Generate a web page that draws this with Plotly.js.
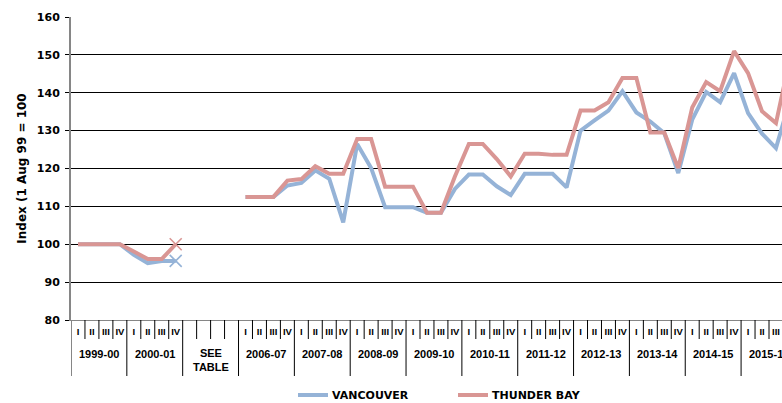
<!DOCTYPE html>
<html><head><meta charset="utf-8">
<script src="https://cdn.plot.ly/plotly-3.0.1.min.js"></script>
<style>html,body{margin:0;padding:0;overflow:hidden;background:#fff}#chart{width:782px;height:403px}</style>
</head><body><div id="chart"></div>
<script>
// ---- data ----
const groups = ['1999-00','2000-01','SEE<br>TABLE','2006-07','2007-08','2008-09','2009-10','2010-11','2011-12','2012-13','2013-14','2014-15','2015-16'];
const quarterNames = ['I','II','III','IV'];
const blankGroup = 'SEE<br>TABLE';
const seriesNames = ['VANCOUVER', 'THUNDER BAY'];
const vancouver = [100,100,100,100, 97.2,95.0,95.6,95.6, null,null,null,null,
  112.5,112.5,112.5,115.5, 116.2,119.5,117.3,105.8, 126.5,120.1,109.8,109.8, 109.8,108.3,108.3,114.6,
  118.4,118.4,115.3,113.0, 118.6,118.6,118.6,115.0, 130.0,132.7,135.3,140.4, 134.8,132.4,129.3,118.8,
  132.9,140.2,137.5,145.2, 134.6,129.2,125.4,138.0];
const thunderBay = [100,100,100,100, 98.1,96.1,96.1,100, null,null,null,null,
  112.5,112.5,112.5,116.8, 117.2,120.6,118.6,118.6, 127.8,127.8,115.2,115.2, 115.2,108.3,108.3,117.9,
  126.5,126.5,122.5,117.9, 123.9,123.9,123.6,123.6, 135.3,135.3,137.5,143.9, 143.9,129.5,129.5,120.1,
  136.1,142.8,140.4,151.0, 145.2,135.1,132.0,149.0];
const markerIndex = 7; // last quarter of 2000-01 (before the gap)

// ---- derived categories ----
const quarters = [];
groups.forEach(g => quarterNames.forEach(q => quarters.push(g === blankGroup ? '' : q)));
const idx = quarters.map((_, i) => i);

// ---- geometry ----
const M = {l:71, r:0, t:17, b:83};
const H = 403, W = 782;
const SLOT = 13.96; // px per quarter in the reference (chart continues past the right edge)
const plotH = H - M.t - M.b, plotW = W - M.l - M.r;
const py = px => (M.t + plotH - px) / plotH; // pixel y -> paper y
const pxX = px => (px - M.l) / plotW;          // pixel x -> paper x
const xEnd = -0.5 + plotW / SLOT;

const BLUE = '#95B3D7', RED = '#D99694';
const colors = [BLUE, RED];
const fTick = {family:'DejaVu Sans', size:11, weight:'bold', color:'#000'};

const traces = [
  {x: idx, y: vancouver, name: seriesNames[0], mode: 'lines', line: {color: BLUE, width: 4}, connectgaps: false, hoverinfo: 'skip', showlegend: false},
  {x: idx, y: thunderBay, name: seriesNames[1], mode: 'lines', line: {color: RED, width: 4}, connectgaps: false, hoverinfo: 'skip', showlegend: false},
  {x: [idx[markerIndex]], y: [vancouver[markerIndex]], mode: 'markers', showlegend: false, hoverinfo: 'skip',
   marker: {symbol: 'x-thin', size: 12, line: {color: BLUE, width: 1.6}, color: BLUE}},
  {x: [idx[markerIndex]], y: [thunderBay[markerIndex]], mode: 'markers', showlegend: false, hoverinfo: 'skip',
   marker: {symbol: 'x-thin', size: 12, line: {color: RED, width: 1.6}, color: RED}}
];

const shapes = [];
const annotations = [];
const n = quarters.length;
for (let k = 0; k < n; k++) {
  const bx = k + 0.5;
  if (bx > xEnd) break;
  const isGroupEnd = (k % 4) === 3;
  shapes.push({type: 'line', xref: 'x', yref: 'paper', x0: bx, x1: bx, y0: 0, y1: isGroupEnd ? py(376) : py(339),
    line: {color: '#000', width: 1}});
}
shapes.push({type: 'line', xref: 'x', yref: 'paper', x0: -0.5, x1: -0.5, y0: 0, y1: py(376), line: {color: '#868686', width: 2}});
groups.forEach((g, gi) => {
  annotations.push({x: gi * 4 + 1.5, xref: 'x', y: py(g === blankGroup ? 359.5 : 353.5), yref: 'paper',
    text: g, showarrow: false, xanchor: 'center', yanchor: 'middle',
    font: {family: 'Liberation Sans, Arial', size: 11, weight: 'bold', color: '#000'}});
});

// legend drawn below the chart (line sample + label), positioned like the reference
const legendX = [298, 458];
seriesNames.forEach((nm, i) => {
  shapes.push({type: 'line', xref: 'paper', yref: 'paper', x0: pxX(legendX[i]), x1: pxX(legendX[i] + 30),
    y0: py(395), y1: py(395), line: {color: colors[i], width: 4}});
  annotations.push({x: pxX(legendX[i] + 32), xref: 'paper', y: py(395), yref: 'paper', text: nm, showarrow: false,
    xanchor: 'left', yanchor: 'middle', font: fTick});
});

const layout = {
  width: W, height: H, margin: M,
  paper_bgcolor: '#fff', plot_bgcolor: '#fff',
  showlegend: false,
  xaxis: {range: [-0.5, xEnd], tickmode: 'array', tickvals: idx, ticktext: quarters, ticks: '', showgrid: false,
    zeroline: false, showline: true, linecolor: '#868686', linewidth: 1, ticklabelstandoff: 3,
    tickfont: {family: 'Liberation Sans, Arial', size: 9.5, weight: 'bold', color: '#000'}, fixedrange: true},
  yaxis: {range: [80, 160], tick0: 80, dtick: 10, showgrid: true, gridcolor: '#000', gridwidth: 1, zeroline: false,
    showline: true, linecolor: '#868686', linewidth: 2, ticks: 'outside', ticklen: 4, tickcolor: '#000', tickwidth: 1,
    tickfont: fTick, ticklabelstandoff: 3, fixedrange: true,
    title: {text: 'Index (1 Aug 99 = 100', font: {family: 'DejaVu Sans', size: 12, weight: 'bold', color: '#000'}, standoff: 8}},
  shapes: shapes, annotations: annotations
};

Plotly.newPlot('chart', traces, layout, {staticPlot: true, displayModeBar: false});
</script></body></html>
